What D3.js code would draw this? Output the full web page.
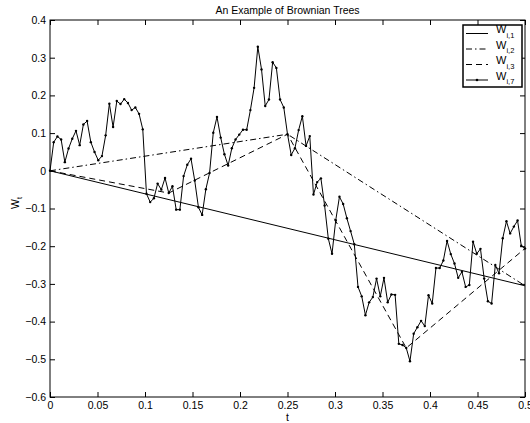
<!DOCTYPE html>
<html>
<head>
<meta charset="utf-8">
<script src="https://cdn.jsdelivr.net/npm/d3@7"></script>
<style>
body { margin: 0; background: #fff; }
text { font-family: "Liberation Sans", Arial, Helvetica, sans-serif; fill: #000; }
</style>
</head>
<body>
<script>
// knots of the coarser trees
var t1 = [0, 0.5];
var w1 = [0, -0.305];
var t2 = [0, 0.25, 0.5];
var w2 = [0, 0.097, -0.305];
var t3 = [0, 0.125, 0.25, 0.375, 0.5];
var w3 = [0, -0.059, 0.097, -0.47, -0.206];

// finest level, 128 steps on [0, 0.5]
var dt = 0.5 / 128;
var w7 = [0, 0.076, 0.091, 0.083, 0.023, 0.059, 0.085, 0.106, 0.068, 0.123,
  0.132, 0.076, 0.050, 0.028, 0.039, 0.094, 0.178, 0.116, 0.185, 0.177,
  0.190, 0.180, 0.161, 0.168, 0.151, 0.110, -0.061, -0.083, -0.073, -0.034,
  -0.050, -0.019, -0.059, -0.041, -0.103, -0.103, -0.014, 0.016, 0.032, -0.026,
  -0.097, -0.117, -0.049, -0.006, 0.101, 0.143, 0.088, 0.044, 0.014, 0.060,
  0.083, 0.096, 0.109, 0.109, 0.161, 0.220, 0.329, 0.269, 0.172, 0.189,
  0.288, 0.273, 0.189, 0.168, 0.097, 0.042, 0.060, 0.108, 0.145, 0.066,
  0.092, -0.063, -0.030, -0.020, -0.092, -0.180, -0.220, -0.131, -0.069, -0.088,
  -0.126, -0.160, -0.195, -0.308, -0.333, -0.383, -0.349, -0.335, -0.286, -0.333,
  -0.284, -0.349, -0.328, -0.329, -0.459, -0.462, -0.470, -0.505, -0.432, -0.415,
  -0.398, -0.412, -0.330, -0.352, -0.258, -0.258, -0.238, -0.186, -0.221, -0.246,
  -0.284, -0.268, -0.308, -0.303, -0.188, -0.220, -0.207, -0.286, -0.346, -0.352,
  -0.250, -0.272, -0.179, -0.134, -0.166, -0.148, -0.132, -0.199, -0.206];

var xTicks = [0, 0.05, 0.1, 0.15, 0.2, 0.25, 0.3, 0.35, 0.4, 0.45, 0.5];
var xTickLabels = ["0", "0.05", "0.1", "0.15", "0.2", "0.25", "0.3", "0.35", "0.4", "0.45", "0.5"];
var yTicks = [0.4, 0.3, 0.2, 0.1, 0, -0.1, -0.2, -0.3, -0.4, -0.5, -0.6];
var yTickLabels = ["0.4", "0.3", "0.2", "0.1", "0", "\u22120.1", "\u22120.2", "\u22120.3", "\u22120.4", "\u22120.5", "\u22120.6"];
var legendNames = ["i,1", "i,2", "i,3", "i,7"];

var width = 530, height = 423;
var pLeft = 50, pRight = 525, pTop = 20, pBottom = 397;
var fs = 10.5;

var x = d3.scaleLinear().domain([0, 0.5]).range([pLeft, pRight]);
var y = d3.scaleLinear().domain([-0.6, 0.4]).range([pBottom, pTop]);

var svg = d3.select("body").append("svg")
    .attr("width", width)
    .attr("height", height);

var toPts = function(ts, ws){
    return ts.map(function(t, i){ return [t, ws[i]]; });
};
var pts7 = w7.map(function(v, i){ return [i * dt, v]; });

var line = d3.line()
    .x(function(d){ return x(d[0]); })
    .y(function(d){ return y(d[1]); });

// axes, ticks pointing in on all four sides
var fmtX = function(d, i){ return xTickLabels[i]; };
var fmtY = function(d, i){ return yTickLabels[i]; };

svg.append("g")
    .attr("transform", "translate(0," + pBottom + ")")
    .call(d3.axisBottom(x).tickValues(xTicks).tickFormat(fmtX).tickSizeInner(-5).tickSizeOuter(0).tickPadding(5));
svg.append("g")
    .attr("transform", "translate(0," + pTop + ")")
    .call(d3.axisTop(x).tickValues(xTicks).tickFormat("").tickSizeInner(-5).tickSizeOuter(0));
svg.append("g")
    .attr("transform", "translate(" + pLeft + ",0)")
    .call(d3.axisLeft(y).tickValues(yTicks).tickFormat(fmtY).tickSizeInner(-5).tickSizeOuter(0).tickPadding(4));
svg.append("g")
    .attr("transform", "translate(" + pRight + ",0)")
    .call(d3.axisRight(y).tickValues(yTicks).tickFormat("").tickSizeInner(-5).tickSizeOuter(0));

svg.selectAll(".domain").remove();
svg.selectAll(".tick line").attr("stroke", "#000");
svg.selectAll(".tick text").attr("font-size", fs).attr("fill", "#000");

svg.append("rect")
    .attr("x", pLeft).attr("y", pTop)
    .attr("width", pRight - pLeft).attr("height", pBottom - pTop)
    .attr("fill", "none").attr("stroke", "#000").attr("stroke-width", 1);

// series
svg.append("path").datum(toPts(t1, w1))
    .attr("d", line).attr("fill", "none").attr("stroke", "#000").attr("stroke-width", 1);
svg.append("path").datum(toPts(t2, w2))
    .attr("d", line).attr("fill", "none").attr("stroke", "#000").attr("stroke-width", 1)
    .attr("stroke-dasharray", "6,3,1.5,3");
svg.append("path").datum(toPts(t3, w3))
    .attr("d", line).attr("fill", "none").attr("stroke", "#000").attr("stroke-width", 1)
    .attr("stroke-dasharray", "6,4");
svg.append("path").datum(pts7)
    .attr("d", line).attr("fill", "none").attr("stroke", "#000").attr("stroke-width", 1);
svg.append("g").selectAll("circle")
    .data(pts7)
    .enter().append("circle")
    .attr("cx", function(d){ return x(d[0]); })
    .attr("cy", function(d){ return y(d[1]); })
    .attr("r", 1.2)
    .attr("fill", "#000");

// labels
svg.append("text")
    .attr("x", (pLeft + pRight) / 2).attr("y", 14)
    .attr("text-anchor", "middle").attr("font-size", fs)
    .text("An Example of Brownian Trees");
svg.append("text")
    .attr("x", (pLeft + pRight) / 2).attr("y", 421)
    .attr("text-anchor", "middle").attr("font-size", fs)
    .text("t");
var yl = svg.append("text")
    .attr("transform", "translate(19,203) rotate(-90)")
    .attr("text-anchor", "middle").attr("font-size", fs);
yl.append("tspan").text("W");
yl.append("tspan").attr("font-size", 7).attr("dy", 3).text("t");

// legend
var lg = svg.append("g");
lg.append("rect")
    .attr("x", 463).attr("y", 25).attr("width", 59).attr("height", 62)
    .attr("fill", "#fff").attr("stroke", "#000").attr("stroke-width", 1.5);
var dashes = [null, "6,3,1.5,3", "6,4", null];
legendNames.forEach(function(name, i){
    var ly = 33.5 + i * 15.5;
    var seg = lg.append("line")
        .attr("x1", 466).attr("x2", 488).attr("y1", ly).attr("y2", ly)
        .attr("stroke", "#000").attr("stroke-width", 1);
    if (dashes[i]) seg.attr("stroke-dasharray", dashes[i]);
    if (i == 3) {
        lg.append("circle").attr("cx", 477).attr("cy", ly).attr("r", 1.3).attr("fill", "#000");
    }
    var tx = lg.append("text").attr("x", 496).attr("y", ly - 0.5).attr("font-size", 11);
    tx.append("tspan").text("W");
    tx.append("tspan").attr("font-size", 7.5).attr("dy", 4.5).text(name);
});
</script>
</body>
</html>
